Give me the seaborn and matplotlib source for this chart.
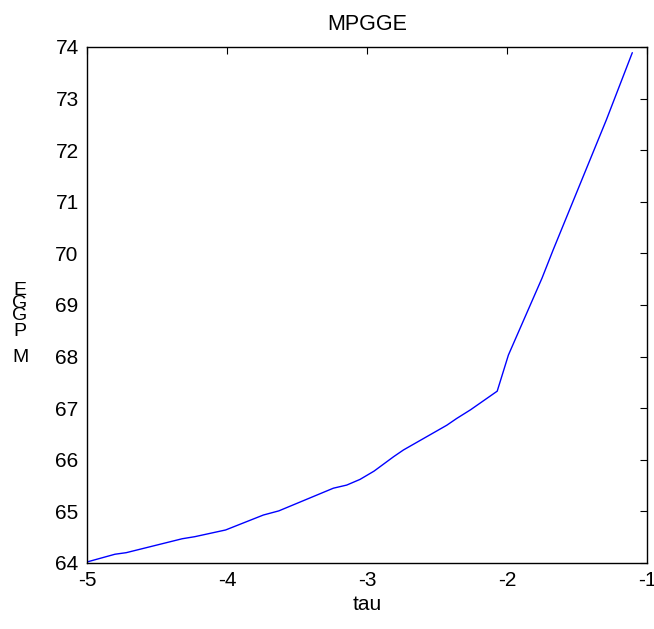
import matplotlib
matplotlib.use("Agg")
import matplotlib.pyplot as plt
import seaborn as sns
import pandas as pd

tau = [-5.0, -4.8, -4.72, -4.32, -4.23, -4.01, -3.74, -3.63, -3.24, -3.145, -3.05,
       -2.95, -2.81, -2.74, -2.43, -2.36, -2.26, -2.07, -1.99, -1.75, -1.67,
       -1.29, -1.105]
mpgge = [64.02, 64.17, 64.2, 64.47, 64.51, 64.64, 64.93, 65.01, 65.45, 65.51, 65.62,
         65.78, 66.06, 66.19, 66.67, 66.80, 66.97, 67.33, 68.03, 69.52, 70.07,
         72.59, 73.89]
xticks = [-5, -4, -3, -2, -1]
yticks = list(range(64, 75))
ylabel_letters = ["E", "G", "G", "P", "M"]

df = pd.DataFrame({"tau": tau, "MPGGE": mpgge})

sns.set_style("white")
plt.rcParams["font.family"] = ["Liberation Sans", "DejaVu Sans"]
plt.rcParams["text.color"] = "black"
plt.rcParams["axes.labelcolor"] = "black"

W, H = 654, 629
fig = plt.figure(figsize=(W / 100, H / 100), dpi=100)
ax = fig.add_axes([87 / W, 66 / H, 560 / W, 516 / H])
sns.lineplot(data=df, x="tau", y="MPGGE", ax=ax, color="#0000ff", linewidth=1.0, sort=False)

ax.set_xlim(-5, -1)
ax.set_ylim(64, 74)
ax.set_xticks(xticks)
ax.set_yticks(yticks)
ax.set_xticklabels([str(t) for t in xticks])
ax.set_yticklabels([str(t) for t in yticks])
ax.tick_params(direction="in", length=5, width=0.8, top=True, right=True,
               labelsize=15, colors="black", pad=6)
for s in ax.spines.values():
    s.set_color("black")
    s.set_linewidth(1.0)
    s.set_visible(True)

ax.set_title("MPGGE", fontsize=15.5, pad=12, color="black")
ax.set_xlabel("tau", fontsize=15, labelpad=3, color="black")
ax.set_ylabel("")

baselines = [295, 308, 320, 336, 362]
for letter, yb in zip(ylabel_letters, baselines):
    fig.text(20 / W, 1 - yb / H, letter, fontsize=14, ha="center", va="baseline",
             color="black")

fig.savefig("out.png", dpi=100)
